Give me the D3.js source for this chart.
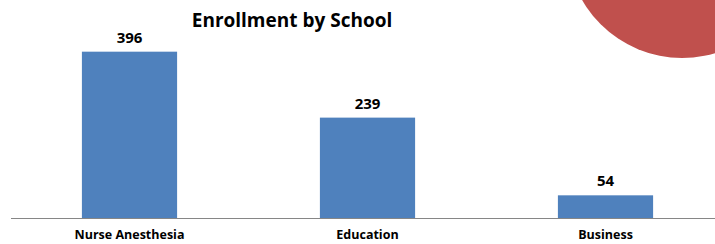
<!DOCTYPE html>
<html>
<head>
<meta charset="utf-8">
<script src="https://cdn.jsdelivr.net/npm/d3@7"></script>
<style>
  body { margin: 0; background: #fff; }
  text { font-family: "Open Sans", "Liberation Sans", sans-serif; font-weight: bold; fill: #000; }
</style>
</head>
<body>
<script>
var width = 715, height = 244;

// data
var schools = ["Nurse Anesthesia", "Education", "Business"];
var enrollment = [396, 239, 54];
var title = "Enrollment by School";

var svg = d3.select("body")
  .append("svg")
  .attr("width", width)
  .attr("height", height);

// decorative red circle top right
svg.append("circle")
  .attr("cx", 682)
  .attr("cy", -57)
  .attr("r", 115)
  .attr("fill", "#C0504D");

var x = d3.scaleBand()
  .domain(schools)
  .range([10.5, 724.5])
  .paddingInner(0.6)
  .paddingOuter(0.3);

var y = d3.scaleLinear()
  .domain([0, 400])
  .range([218, 50]);

// bars
svg.selectAll("rect.bar")
  .data(enrollment)
  .enter()
  .append("rect")
  .attr("class", "bar")
  .attr("x", function (d, i) { return x(schools[i]); })
  .attr("y", function (d) { return y(d); })
  .attr("width", x.bandwidth())
  .attr("height", function (d) { return y(0) - y(d); })
  .attr("fill", "#4F81BD");

// value labels
svg.selectAll("text.value")
  .data(enrollment)
  .enter()
  .append("text")
  .attr("class", "value")
  .attr("x", function (d, i) { return x(schools[i]) + x.bandwidth() / 2; })
  .attr("y", function (d) { return y(d) - 9; })
  .attr("text-anchor", "middle")
  .style("font-size", "15px")
  .text(function (d) { return d; });

// x axis
var xAxis = svg.append("g")
  .attr("transform", "translate(0," + y(0) + ")")
  .call(d3.axisBottom(x).tickSize(0).tickPadding(12));
xAxis.select(".domain").attr("stroke", "#868686").attr("stroke-width", 1.2);
xAxis.selectAll("text")
  .style("font-size", "12.5px")
  .style("font-family", null)
  .attr("fill", "#000");

// title
svg.append("text")
  .attr("x", 292)
  .attr("y", 27)
  .attr("text-anchor", "middle")
  .style("font-size", "19px")
  .text(title);
</script>
</body>
</html>
